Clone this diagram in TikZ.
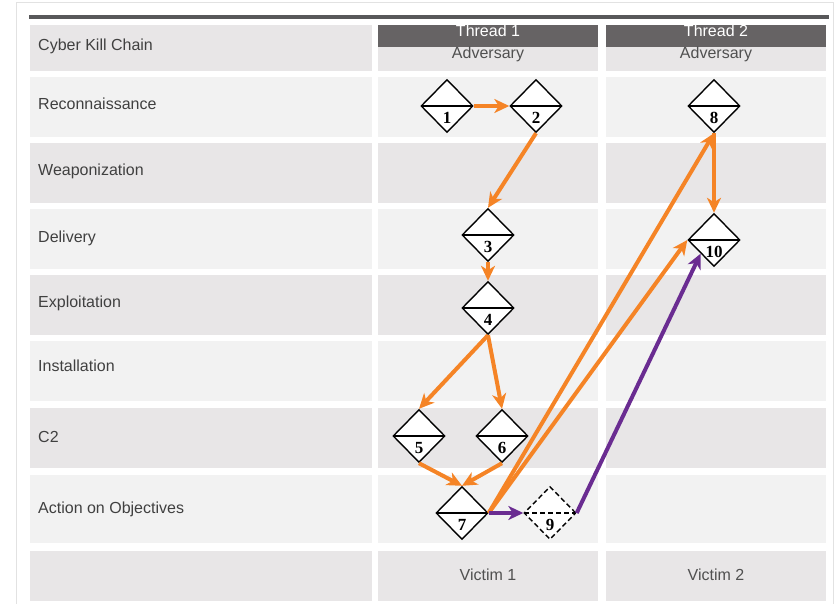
\documentclass[tikz,border=0pt]{standalone}
\usepackage{fontspec}
\setmainfont{Liberation Sans}
\newfontfamily\numfont{Liberation Serif}
\usetikzlibrary{shapes.geometric,arrows.meta}
\definecolor{rowA}{HTML}{F2F2F2}
\definecolor{rowB}{HTML}{E8E6E7}
\definecolor{hdr}{HTML}{666364}
\definecolor{rulec}{HTML}{58585A}
\definecolor{framec}{HTML}{E2E2E2}
\definecolor{orng}{HTML}{F58426}
\definecolor{purp}{HTML}{6A2C91}
\definecolor{txt}{HTML}{404040}
\definecolor{subtxt}{HTML}{505050}
\tikzset{
  lbl/.style={anchor=west, inner sep=0pt, text height=11.5pt, text depth=0pt, text=txt, font=\fontsize{16}{19}\selectfont},
  ctxt/.style={inner sep=0pt, text height=11.5pt, text depth=0pt, text=subtxt, font=\fontsize{16}{19}\selectfont},
  dia/.style={diamond, draw=black, line width=1.4pt, fill=white, minimum width=52pt, minimum height=53pt, inner sep=0pt,
    path picture={\draw[line width=1.4pt] (path picture bounding box.west) -- (path picture bounding box.east);}},
  diadash/.style={diamond, draw=black, dash pattern=on 5pt off 3pt, line width=1.4pt, fill=white, minimum width=52pt, minimum height=53pt, inner sep=0pt,
    path picture={\draw[line width=1.4pt, dash pattern=on 5pt off 3pt] (path picture bounding box.west) -- (path picture bounding box.east);}},
  num/.style={inner sep=0pt, font=\numfont\bfseries\fontsize{17}{17}\selectfont},
  oarr/.style={draw=orng, line width=4pt, -{Stealth[length=15pt,width=14pt,inset=4.5pt]}},
  parr/.style={draw=purp, line width=4pt, -{Stealth[length=15pt,width=14pt,inset=4.5pt]}},
}
\begin{document}
\begin{tikzpicture}[x=1pt,y=-1pt]
\useasboundingbox (0,0) rectangle (836,604);
\fill[white] (0,0) rectangle (836,604);
% outer frame
\draw[framec, line width=1pt] (16,604) -- (16,2.5) -- (833.5,2.5) -- (833.5,604);
% top rule
\fill[rulec] (29,15.5) rectangle (829,19.5);
% cells
\foreach \t/\b/\c in {25/71/rowB, 77/137/rowA, 143/203/rowB, 209/269/rowA, 275/335/rowB, 341/401/rowA, 408/468/rowB, 475/543/rowA, 551/601/rowB}{
  \fill[\c] (30,\t) rectangle (372,\b);
  \fill[\c] (378,\t) rectangle (598,\b);
  \fill[\c] (606,\t) rectangle (826,\b);
}
% header bars
\fill[hdr] (378,25) rectangle (598,47);
\fill[hdr] (606,25) rectangle (826,47);
\begin{scope}
\clip (0,25) rectangle (836,604);
\node[ctxt, text=white] (th1) at (488,30.5) {Thread 1};
\node[ctxt, text=white] (th2) at (716,30.5) {Thread 2};
\end{scope}
\node[ctxt] (ad1) at (488,53) {Adversary};
\node[ctxt] (ad2) at (716,53) {Adversary};
\node[ctxt] (v1) at (488,575) {Victim 1};
\node[ctxt] (v2) at (716,575) {Victim 2};
% row labels
\node[lbl] (l0) at (38,45) {Cyber Kill Chain};
\node[lbl] (l1) at (38,104) {Reconnaissance};
\node[lbl] (l2) at (38,170) {Weaponization};
\node[lbl] (l3) at (38,237) {Delivery};
\node[lbl] (l4) at (38,302) {Exploitation};
\node[lbl] (l5) at (38,366) {Installation};
\node[lbl] (l6) at (38,437) {C2};
\node[lbl] (l7) at (38,508) {Action on Objectives};
% diamonds
\node[dia] (n1) at (447,106) {};
\node[dia] (n2) at (536,106) {};
\node[dia] (n3) at (488,235) {};
\node[dia] (n4) at (488,308) {};
\node[dia] (n5) at (419,436) {};
\node[dia] (n6) at (502,436) {};
\node[dia] (n7) at (462,513) {};
\node[diadash] (n9) at (550,513) {};
\node[dia] (n8) at (714,106) {};
\node[dia] (n10) at (714,240) {};
\foreach \n in {1,...,10}{
  \node[num] (t\n) at ([yshift=-12pt]n\n.center) {\n};
}
% connectors
\draw[oarr] (n1.east) -- (n2.west);
\draw[oarr] (n2.south) -- (n3.north);
\draw[oarr] (n3.south) -- (n4.north);
\draw[oarr] (n4.south) -- (n5.north);
\draw[oarr] (n4.south) -- (n6.north);
\draw[oarr] (n5.south) -- (n7.north);
\draw[oarr] (n6.south) -- (n7.north);
\draw[oarr] (n8.south) -- (n10.north);
\draw[oarr] (n7.east) -- (n8.south);
\draw[oarr] (n7.east) -- (n10.west);
\draw[parr] (n7.east) -- (n9.west);
\draw[parr] (n9.east) -- (n10.south west);
\end{tikzpicture}
\end{document}
